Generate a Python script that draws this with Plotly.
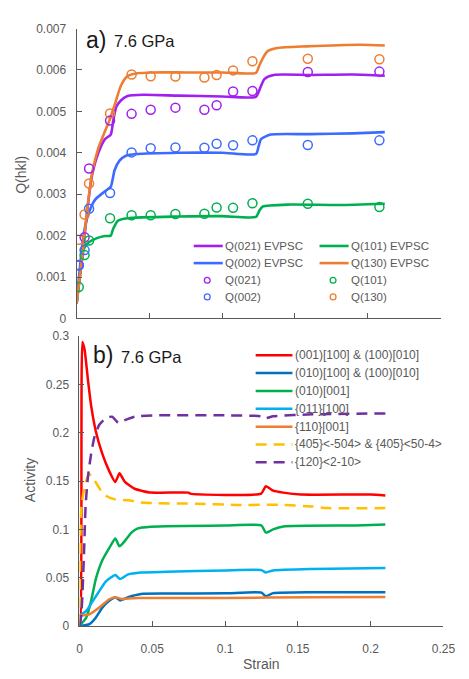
import plotly.graph_objects as go

# ---- Panel a: Q(hkl) vs strain ----
exp_strain = [0.0015, 0.0055, 0.0086, 0.023, 0.0378, 0.0509, 0.0679, 0.0878, 0.0962, 0.1075, 0.1208, 0.1588, 0.208]
q021_obs = [0.00129, 0.00196, 0.00362, 0.00478, 0.00494, 0.00504, 0.00509, 0.00504, 0.00515, 0.00548, 0.00549, 0.00595, 0.00596]
q002_obs = [0.00128, 0.00165, 0.00265, 0.00303, 0.00401, 0.00411, 0.00413, 0.00412, 0.00422, 0.00418, 0.0043, 0.00419, 0.0043]
q101_obs = [0.00076, 0.00153, 0.00188, 0.00242, 0.00249, 0.00249, 0.00252, 0.00253, 0.00268, 0.00267, 0.00278, 0.00277, 0.00269]
q130_obs = [0.0019, 0.00251, 0.00326, 0.00495, 0.00589, 0.00585, 0.00584, 0.00582, 0.00588, 0.00599, 0.00621, 0.00627, 0.00626]

q021_x = [0, 0.004, 0.0073, 0.0106, 0.0151, 0.0195, 0.0235, 0.0251, 0.0273, 0.0306, 0.035, 0.046, 0.07, 0.1, 0.1232, 0.1254, 0.129, 0.1355, 0.16, 0.19, 0.2117]
q021_y = [0.00035, 0.0015, 0.0026, 0.00345, 0.00401, 0.00433, 0.00444, 0.00476, 0.00511, 0.00527, 0.00537, 0.0054, 0.00538, 0.00536, 0.00535, 0.0055, 0.00578, 0.00588, 0.00588, 0.00589, 0.00586]
q002_x = [0, 0.0018, 0.0051, 0.0084, 0.0128, 0.0195, 0.0235, 0.0261, 0.0295, 0.0339, 0.0416, 0.07, 0.1, 0.1232, 0.125, 0.1267, 0.1333, 0.16, 0.19, 0.2117]
q002_y = [0.00035, 0.00106, 0.00208, 0.00255, 0.00287, 0.00307, 0.00318, 0.00358, 0.00381, 0.00393, 0.00397, 0.004, 0.004, 0.00397, 0.00415, 0.00433, 0.00444, 0.00445, 0.00447, 0.0045]
q101_x = [0, 0.0029, 0.0051, 0.0084, 0.014, 0.0195, 0.0235, 0.0251, 0.0284, 0.035, 0.07, 0.1, 0.1232, 0.1255, 0.1278, 0.1466, 0.18, 0.2117]
q101_y = [0.00035, 0.00121, 0.00169, 0.00184, 0.00194, 0.00199, 0.002, 0.00216, 0.00236, 0.00242, 0.00246, 0.00247, 0.00245, 0.0026, 0.0027, 0.00275, 0.00274, 0.00277]
q130_x = [0, 0.004, 0.0073, 0.0106, 0.0151, 0.0195, 0.0228, 0.0261, 0.0306, 0.035, 0.0416, 0.0527, 0.075, 0.1, 0.1232, 0.1254, 0.1288, 0.1311, 0.1378, 0.1577, 0.1953, 0.2117]
q130_y = [0.00035, 0.00153, 0.00263, 0.0035, 0.00413, 0.00452, 0.0048, 0.00515, 0.00563, 0.00585, 0.00592, 0.00594, 0.00594, 0.00594, 0.00593, 0.0061, 0.00634, 0.00645, 0.00653, 0.00657, 0.00661, 0.00659]

# ---- Panel b: slip-system activity vs strain ----
red_x = [0, 0.0005, 0.002, 0.0035, 0.0058, 0.008, 0.0113, 0.0157, 0.0202, 0.0246, 0.0275, 0.0312, 0.0379, 0.049, 0.075, 0.076, 0.1248, 0.128, 0.133, 0.14, 0.152, 0.2, 0.2101]
red_y = [0, 0.0, 0.294, 0.286, 0.255, 0.228, 0.201, 0.178, 0.161, 0.149, 0.158, 0.149, 0.142, 0.138, 0.138, 0.137, 0.137, 0.1446, 0.14, 0.138, 0.136, 0.136, 0.135]
dblue_x = [0, 0.0069, 0.0113, 0.0157, 0.0202, 0.0246, 0.0279, 0.0334, 0.0423, 0.06, 0.1, 0.125, 0.128, 0.133, 0.16, 0.2101]
dblue_y = [0, 0.002, 0.0088, 0.019, 0.0257, 0.0297, 0.0264, 0.0297, 0.0331, 0.0335, 0.0338, 0.0345, 0.0307, 0.034, 0.035, 0.035]
green_x = [0, 0.0047, 0.008, 0.0113, 0.0157, 0.0202, 0.0246, 0.0275, 0.0312, 0.0357, 0.0401, 0.049, 0.1, 0.125, 0.128, 0.133, 0.14, 0.19, 0.2101]
green_y = [0, 0.0088, 0.026, 0.049, 0.068, 0.08, 0.0905, 0.0824, 0.088, 0.0966, 0.101, 0.1027, 0.104, 0.104, 0.0966, 0.1, 0.103, 0.104, 0.105]
lblue_x = [0, 0.0013, 0.0047, 0.0091, 0.0135, 0.018, 0.0246, 0.0279, 0.0334, 0.0423, 0.06, 0.1, 0.125, 0.128, 0.133, 0.16, 0.2101]
lblue_y = [0.01, 0.012, 0.0155, 0.0257, 0.0358, 0.046, 0.0527, 0.0486, 0.0534, 0.0554, 0.0561, 0.0575, 0.0578, 0.0554, 0.0575, 0.059, 0.0601]
orange_x = [0, 0.0069, 0.0135, 0.0202, 0.0246, 0.029, 0.04, 0.05, 0.1, 0.16, 0.2101]
orange_y = [0.0105, 0.012, 0.019, 0.0274, 0.0297, 0.028, 0.029, 0.029, 0.029, 0.0297, 0.03]
yellow_x = [0, 0.0013, 0.0047, 0.0069, 0.0102, 0.0146, 0.019, 0.0246, 0.0334, 0.0423, 0.053, 0.08, 0.107, 0.138, 0.16, 0.17, 0.2101]
yellow_y = [0, 0.124, 0.151, 0.157, 0.151, 0.1405, 0.134, 0.131, 0.13, 0.1277, 0.127, 0.1265, 0.1253, 0.1253, 0.1237, 0.122, 0.122]
purple_x = [0, 0.0013, 0.003, 0.0042, 0.0058, 0.008, 0.0102, 0.0135, 0.018, 0.0224, 0.0268, 0.0312, 0.0379, 0.0532, 0.1, 0.125, 0.128, 0.133, 0.16, 0.2101]
purple_y = [0, 0.012, 0.07, 0.124, 0.154, 0.178, 0.195, 0.208, 0.215, 0.2166, 0.21, 0.213, 0.2166, 0.218, 0.218, 0.217, 0.215, 0.217, 0.219, 0.22]

W, H = 469, 679
FONT = "Liberation Sans, Arial, sans-serif"
GREY = "#595959"
AXIS = "#595959"
DASH = "11px,7px"

C021, C002, C101, C130 = "#A020F0", "#3D6BFF", "#00B050", "#ED7D31"

fig = go.Figure()

# model curves (panel a)
model_a = [("Q(021) EVPSC", q021_x, q021_y, C021),
           ("Q(101) EVPSC", q101_x, q101_y, C101),
           ("Q(002) EVPSC", q002_x, q002_y, C002),
           ("Q(130) EVPSC", q130_x, q130_y, C130)]
for name, xs, ys, c in model_a:
    fig.add_trace(go.Scatter(x=xs, y=ys, mode="lines", name=name,
                             line=dict(color=c, width=2.6, shape="spline", smoothing=0.6),
                             xaxis="x", yaxis="y"))

# measured points (panel a)
obs_a = [("Q(021)", q021_obs, C021), ("Q(101)", q101_obs, C101),
         ("Q(002)", q002_obs, C002), ("Q(130)", q130_obs, C130)]
for name, ys, c in obs_a:
    fig.add_trace(go.Scatter(x=exp_strain, y=ys, mode="markers", name=name,
                             marker=dict(symbol="circle-open", size=9, color=c, line=dict(width=1.5)),
                             xaxis="x", yaxis="y"))

# slip-system activities (panel b)
systems_b = [
    ("(001)[100] & (100)[010]", red_x, red_y, "#FF0000", "solid"),
    ("(010)[100] & (100)[010]", dblue_x, dblue_y, "#0070C0", "solid"),
    ("(010)[001]", green_x, green_y, "#00B050", "solid"),
    ("{011}[100]", lblue_x, lblue_y, "#00B0F0", "solid"),
    ("{110}[001]", orange_x, orange_y, "#ED7D31", "solid"),
    ("{405}<-504> & {405}<50-4>", yellow_x, yellow_y, "#FFC000", DASH),
    ("{120}<2-10>", purple_x, purple_y, "#7030A0", DASH)]
for name, xs, ys, c, dash in systems_b:
    fig.add_trace(go.Scatter(x=xs, y=ys, mode="lines", name=name,
                             line=dict(color=c, width=2.5, dash=dash, shape="spline", smoothing=0.5),
                             xaxis="x2", yaxis="y2"))

ax_common = dict(showline=True, linecolor=AXIS, linewidth=1, showgrid=False, zeroline=False,
                 ticks="inside", ticklen=5, tickcolor=AXIS,
                 tickfont=dict(family=FONT, size=12, color=GREY))

fig.update_layout(
    width=W, height=H,
    margin=dict(l=0, r=0, t=0, b=0),
    paper_bgcolor="white", plot_bgcolor="white",
    showlegend=False,
    xaxis=dict(ax_common, domain=[76 / W, 452 / W], range=[0, 0.25], dtick=0.05,
               showticklabels=False, anchor="y"),
    yaxis=dict(ax_common, domain=[(H - 318) / H, (H - 22) / H], range=[0, 0.007], dtick=0.001,
               tickformat="~g", anchor="x", ticklabelstandoff=7),
    xaxis2=dict(ax_common, domain=[79 / W, 455 / W], range=[0, 0.25], dtick=0.05,
                tickformat="~g", anchor="y2", ticklabelstandoff=12),
    yaxis2=dict(ax_common, domain=[(H - 632) / H, (H - 336) / H], range=[0, 0.3], dtick=0.05,
                tickformat="~g", anchor="x2", ticklabelstandoff=7),
)


def px(x, y):
    """Pixel position -> paper fraction."""
    return x / W, 1 - y / H


def key_text(text, x, y, size):
    fx, fy = px(x, y)
    fig.add_annotation(text=text, xref="paper", yref="paper", x=fx, y=fy,
                       xanchor="left", yanchor="middle", showarrow=False,
                       font=dict(family=FONT, size=size, color=GREY))


def key_line(x0, x1, y, color, width, dash="solid"):
    a, b = px(x0, y)
    c, _ = px(x1, y)
    fig.add_shape(type="line", xref="paper", yref="paper", x0=a, x1=c, y0=b, y1=b,
                  line=dict(color=color, width=width, dash=dash))


def key_circle(x, y, color, r=3):
    a, b = px(x - r, y - r)
    c, d = px(x + r, y + r)
    fig.add_shape(type="circle", xref="paper", yref="paper", x0=a, x1=c, y0=d, y1=b,
                  line=dict(color=color, width=1.3), fillcolor="rgba(0,0,0,0)")


# key for panel a: two columns, lines then symbols
cols = [197, 327]
rows_a = [244, 261.5, 279, 296]
for i, (name, _, _, c) in enumerate(model_a):
    cx, ry = cols[i % 2], rows_a[i // 2]
    key_line(cx, cx + 30, ry, c, 2.6)
    key_text(name, cx + 30, ry, 11.5)
for i, (name, _, c) in enumerate(obs_a):
    cx, ry = cols[i % 2], rows_a[2 + i // 2]
    key_circle(cx + 14, ry, c)
    key_text(name, cx + 30, ry, 11.5)

# key for panel b: single column
rows_b = [355.7, 373.8, 392, 410.2, 428.5, 446.7, 464.8]
for (name, _, _, c, dash), ry in zip(systems_b, rows_b):
    key_line(261, 299, ry, c, 2.5, dash)
    key_text(name, 300, ry, 12)

# panel labels
for text, x, y, size in [("a)", 84, 34, 23), ("7.6 GPa", 113, 35, 16.5),
                         ("b)", 91, 355, 23), ("7.6 GPa", 120, 357, 16.5)]:
    fx, fy = px(x, y)
    fig.add_annotation(text=text, xref="paper", yref="paper", x=fx, y=fy,
                       xanchor="left", yanchor="middle", showarrow=False,
                       font=dict(family=FONT, size=size, color="#1a1a1a"))

# axis titles
for text, x, y, ang in [("Q(hkl)", 19, 171, -90), ("Activity", 28, 483, -90), ("Strain", 267, 671, 0)]:
    fx, fy = px(x, y)
    fig.add_annotation(text=text, xref="paper", yref="paper", x=fx, y=fy,
                       xanchor="center", yanchor="middle", textangle=ang, showarrow=False,
                       font=dict(family=FONT, size=14, color=GREY))

fig.write_html("out.html")
